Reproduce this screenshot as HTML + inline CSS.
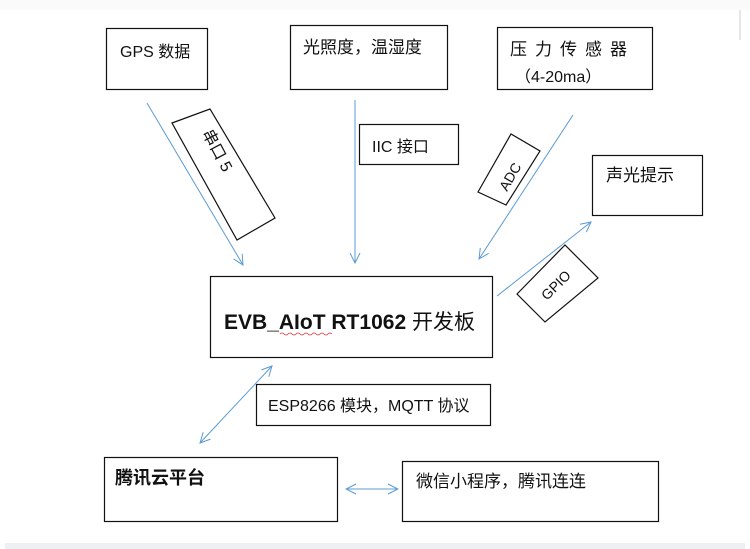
<!DOCTYPE html>
<html><head><meta charset="utf-8"><style>
html,body{margin:0;padding:0;background:#fff;}
svg{display:block;}
text{font-family:"Liberation Sans","Noto Sans CJK SC",sans-serif;fill:#111;}
</style></head><body>
<svg width="750" height="549" viewBox="0 0 750 549">
<defs>
<marker id="a" markerWidth="12" markerHeight="12" refX="11" refY="6" orient="auto" markerUnits="userSpaceOnUse">
<path d="M1,1 L11,6 L1,11" fill="none" stroke="#5b9bd5" stroke-width="1"/></marker>
<marker id="s" markerWidth="12" markerHeight="12" refX="1" refY="6" orient="auto" markerUnits="userSpaceOnUse">
<path d="M11,1 L1,6 L11,11" fill="none" stroke="#5b9bd5" stroke-width="1"/></marker>
</defs>
<rect x="0" y="0" width="750" height="10" fill="#fafafa"/>
<line x1="740" y1="10" x2="740" y2="40" stroke="#ccc"/>
<rect x="5" y="543" width="740" height="6" fill="#eef0f3"/>
<g fill="none" stroke="#111" stroke-width="1.2">
<rect x="106.5" y="28.5" width="101" height="61"/>
<rect x="290.5" y="25.5" width="157" height="64"/>
<rect x="497.5" y="27.5" width="155" height="62"/>
<rect x="359.5" y="124.5" width="99" height="40"/>
<polygon points="172,123 210,109 275,218 237,240"/>
<polygon points="478,192 511,134 540,151 506,205"/>
<rect x="592.5" y="155.5" width="110" height="60"/>
<polygon points="517,294 565,245 598,278 545,322"/>
<rect x="210.5" y="276.5" width="282" height="81"/>
<rect x="256.5" y="384.5" width="234" height="41"/>
<rect x="104.5" y="457.5" width="233" height="64"/>
<rect x="402.5" y="461.5" width="256" height="60"/>
</g>
<g stroke="#5b9bd5" stroke-width="1" fill="none">
<line x1="147" y1="103" x2="243" y2="265" marker-end="url(#a)"/>
<line x1="355" y1="100" x2="355" y2="263" marker-end="url(#a)"/>
<line x1="573" y1="115" x2="479" y2="259" marker-end="url(#a)"/>
<line x1="497" y1="296" x2="591" y2="222" marker-end="url(#a)"/>
<line x1="200" y1="443" x2="272" y2="366" marker-start="url(#s)" marker-end="url(#a)"/>
<line x1="346" y1="489" x2="398" y2="489" marker-start="url(#s)" marker-end="url(#a)"/>
</g>
<text x="120" y="57" font-size="16">GPS 数据</text>
<text x="303" y="53" font-size="17">光照度，温湿度</text>
<text x="510" y="55" font-size="17" letter-spacing="8">压力传感器</text>
<text x="515" y="82" font-size="16">（4-20ma）</text>
<text x="372" y="152" font-size="16">IIC 接口</text>
<text x="0" y="0" font-size="16" transform="translate(202,133) rotate(62)">串口 5</text>
<text x="0" y="0" font-size="14" transform="translate(507,192) rotate(-60)">ADC</text>
<text x="0" y="0" font-size="14" transform="translate(547,301) rotate(-45)">GPIO</text>
<text x="606" y="181" font-size="17">声光提示</text>
<text x="224" y="329" font-size="21" font-weight="bold" textLength="251" lengthAdjust="spacingAndGlyphs">EVB_AIoT RT1062 <tspan font-weight="normal">开发板</tspan></text>
<path d="M280,334 q2,-2 4,0 t4,0 t4,0 t4,0 t4,0 t4,0 t4,0 t4,0 t4,0 t4,0 t4,0 t4,0 t4,0" stroke="#d33" stroke-width="0.8" fill="none"/>
<text x="268" y="411" font-size="16">ESP8266 模块，MQTT 协议</text>
<text x="115" y="484" font-size="18" font-weight="bold">腾讯云平台</text>
<text x="416" y="487" font-size="17">微信小程序，腾讯连连</text>
</svg>
</body></html>
